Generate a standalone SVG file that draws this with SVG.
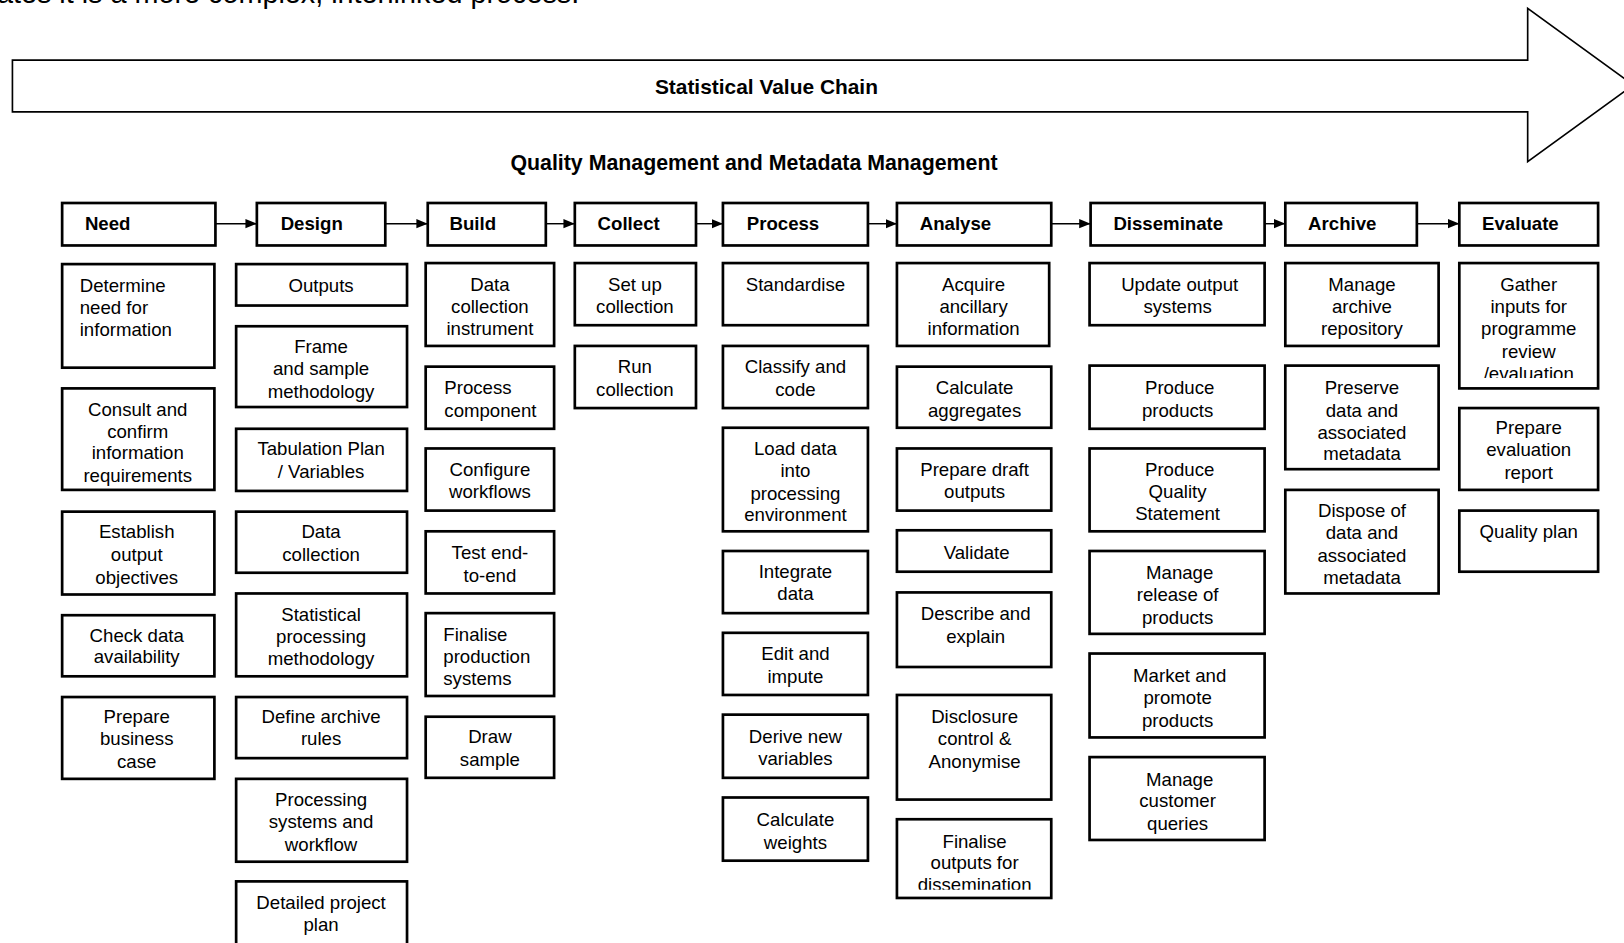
<svg xmlns="http://www.w3.org/2000/svg" width="1624" height="943" viewBox="0 0 1624 943">
<style>
.box{fill:#fff;stroke:#000;stroke-width:2.6}
.t{font-family:"Liberation Sans",Arial,sans-serif;font-size:18px;fill:#000;text-anchor:middle}
.l{text-anchor:start}
.h{font-family:"Liberation Sans",Arial,sans-serif;font-size:18px;font-weight:bold;fill:#000}
.title{font-family:"Liberation Sans",Arial,sans-serif;font-weight:bold;fill:#000;text-anchor:middle}
.conn{stroke:#000;stroke-width:1.4;fill:none}
</style>
<defs>
<marker id="ah" markerUnits="userSpaceOnUse" markerWidth="11" markerHeight="10" refX="11" refY="5" orient="auto">
<path d="M0,0.5 L11,5 L0,9.5 z" fill="#000"/>
</marker>
<clipPath id="clipGather"><rect x="1400" y="250" width="150" height="115"/></clipPath>
<clipPath id="clipFinal"><rect x="860" y="790" width="160" height="69"/></clipPath>
</defs>
<rect x="0" y="0" width="1624" height="943" fill="#fff"/>
<g transform="scale(1.035714)">
<text x="-3" y="3" font-family="Liberation Sans, Arial, sans-serif" font-size="27.8" fill="#000">ates it is a more complex, interlinked process.</text>

<g id="value-chain-arrow">
<polygon points="12,58 1475,58 1475,8 1577,82 1475,156 1475,108 12,108" fill="#fff" stroke="#000" stroke-width="1.6"/>
<text class="title" x="740" y="91" font-size="20.2">Statistical Value Chain</text>
</g>
<g id="qm-title">
<text class="title" x="728" y="164" font-size="20.6">Quality Management and Metadata Management</text>
</g>

<g id="connectors">
<line class="conn" x1="208" y1="216" x2="248" y2="216" marker-end="url(#ah)"/>
<line class="conn" x1="372" y1="216" x2="413" y2="216" marker-end="url(#ah)"/>
<line class="conn" x1="527" y1="216" x2="555" y2="216" marker-end="url(#ah)"/>
<line class="conn" x1="672" y1="216" x2="698" y2="216" marker-end="url(#ah)"/>
<line class="conn" x1="838" y1="216" x2="866" y2="216" marker-end="url(#ah)"/>
<line class="conn" x1="1015" y1="216" x2="1053" y2="216" marker-end="url(#ah)"/>
<line class="conn" x1="1221" y1="216" x2="1241" y2="216" marker-end="url(#ah)"/>
<line class="conn" x1="1368" y1="216" x2="1409" y2="216" marker-end="url(#ah)"/>
</g>

<!-- Headers -->
<g id="h-need"><rect class="box" x="60" y="196" width="148" height="41"/><text class="h" x="82" y="222">Need</text></g>
<g id="h-design"><rect class="box" x="248" y="196" width="124" height="41"/><text class="h" x="271" y="222">Design</text></g>
<g id="h-build"><rect class="box" x="413" y="196" width="114" height="41"/><text class="h" x="434" y="222">Build</text></g>
<g id="h-collect"><rect class="box" x="555" y="196" width="117" height="41"/><text class="h" x="577" y="222">Collect</text></g>
<g id="h-process"><rect class="box" x="698" y="196" width="140" height="41"/><text class="h" x="721" y="222">Process</text></g>
<g id="h-analyse"><rect class="box" x="866" y="196" width="149" height="41"/><text class="h" x="888" y="222">Analyse</text></g>
<g id="h-disseminate"><rect class="box" x="1053" y="196" width="168" height="41"/><text class="h" x="1075" y="222">Disseminate</text></g>
<g id="h-archive"><rect class="box" x="1241" y="196" width="127" height="41"/><text class="h" x="1263" y="222">Archive</text></g>
<g id="h-evaluate"><rect class="box" x="1409" y="196" width="134" height="41"/><text class="h" x="1431" y="222">Evaluate</text></g>

<!-- Need column -->
<g id="need-1"><rect class="box" x="60" y="255" width="147" height="100"/><text class="t l"><tspan x="77" y="281.5">Determine</tspan><tspan x="77" y="303.5">need for</tspan><tspan x="77" y="324.5">information</tspan></text></g>
<g id="need-2"><rect class="box" x="60" y="375" width="147" height="98"/><text class="t"><tspan x="133" y="401.5">Consult and</tspan><tspan x="133" y="422.5">confirm</tspan><tspan x="133" y="443.5">information</tspan><tspan x="133" y="465.5">requirements</tspan></text></g>
<g id="need-3"><rect class="box" x="60" y="494" width="147" height="80"/><text class="t"><tspan x="132" y="519.5">Establish</tspan><tspan x="132" y="541.5">output</tspan><tspan x="132" y="563.5">objectives</tspan></text></g>
<g id="need-4"><rect class="box" x="60" y="594" width="147" height="59"/><text class="t"><tspan x="132" y="619.5">Check data</tspan><tspan x="132" y="640.5">availability</tspan></text></g>
<g id="need-5"><rect class="box" x="60" y="673" width="147" height="79"/><text class="t"><tspan x="132" y="698.5">Prepare</tspan><tspan x="132" y="719.5">business</tspan><tspan x="132" y="741.5">case</tspan></text></g>

<!-- Design column -->
<g id="design-1"><rect class="box" x="228" y="255" width="165" height="40"/><text class="t"><tspan x="310" y="281.5">Outputs</tspan></text></g>
<g id="design-2"><rect class="box" x="228" y="315" width="165" height="78"/><text class="t"><tspan x="310" y="340.5">Frame</tspan><tspan x="310" y="362.5">and sample</tspan><tspan x="310" y="384.5">methodology</tspan></text></g>
<g id="design-3"><rect class="box" x="228" y="414" width="165" height="60"/><text class="t"><tspan x="310" y="439.5">Tabulation Plan</tspan><tspan x="310" y="461.5">/ Variables</tspan></text></g>
<g id="design-4"><rect class="box" x="228" y="494" width="165" height="59"/><text class="t"><tspan x="310" y="519.5">Data</tspan><tspan x="310" y="541.5">collection</tspan></text></g>
<g id="design-5"><rect class="box" x="228" y="573" width="165" height="80"/><text class="t"><tspan x="310" y="599.5">Statistical</tspan><tspan x="310" y="620.5">processing</tspan><tspan x="310" y="642.5">methodology</tspan></text></g>
<g id="design-6"><rect class="box" x="228" y="673" width="165" height="59"/><text class="t"><tspan x="310" y="698.5">Define archive</tspan><tspan x="310" y="719.5">rules</tspan></text></g>
<g id="design-7"><rect class="box" x="228" y="752" width="165" height="80"/><text class="t"><tspan x="310" y="778.5">Processing</tspan><tspan x="310" y="799.5">systems and</tspan><tspan x="310" y="821.5">workflow</tspan></text></g>
<g id="design-8"><rect class="box" x="228" y="851" width="165" height="66"/><text class="t"><tspan x="310" y="877.5">Detailed project</tspan><tspan x="310" y="898.5">plan</tspan></text></g>

<!-- Build column -->
<g id="build-1"><rect class="box" x="411" y="254" width="124" height="80"/><text class="t"><tspan x="473" y="280.5">Data</tspan><tspan x="473" y="302.5">collection</tspan><tspan x="473" y="323.5">instrument</tspan></text></g>
<g id="build-2"><rect class="box" x="411" y="354" width="124" height="60"/><text class="t l"><tspan x="429" y="380.5">Process</tspan><tspan x="429" y="402.5">component</tspan></text></g>
<g id="build-3"><rect class="box" x="411" y="433" width="124" height="60"/><text class="t"><tspan x="473" y="459.5">Configure</tspan><tspan x="473" y="480.5">workflows</tspan></text></g>
<g id="build-4"><rect class="box" x="411" y="513" width="124" height="60"/><text class="t"><tspan x="473" y="539.5">Test end-</tspan><tspan x="473" y="561.5">to-end</tspan></text></g>
<g id="build-5"><rect class="box" x="411" y="592" width="124" height="80"/><text class="t l"><tspan x="428" y="618.5">Finalise</tspan><tspan x="428" y="640.5">production</tspan><tspan x="428" y="661.5">systems</tspan></text></g>
<g id="build-6"><rect class="box" x="411" y="692" width="124" height="59"/><text class="t"><tspan x="473" y="717.5">Draw</tspan><tspan x="473" y="739.5">sample</tspan></text></g>

<!-- Collect column -->
<g id="collect-1"><rect class="box" x="555" y="254" width="117" height="60"/><text class="t"><tspan x="613" y="280.5">Set up</tspan><tspan x="613" y="302.5">collection</tspan></text></g>
<g id="collect-2"><rect class="box" x="555" y="334" width="117" height="60"/><text class="t"><tspan x="613" y="360.5">Run</tspan><tspan x="613" y="382.5">collection</tspan></text></g>

<!-- Process column -->
<g id="process-1"><rect class="box" x="698" y="254" width="140" height="60"/><text class="t"><tspan x="768" y="280.5">Standardise</tspan></text></g>
<g id="process-2"><rect class="box" x="698" y="334" width="140" height="60"/><text class="t"><tspan x="768" y="360.5">Classify and</tspan><tspan x="768" y="382.5">code</tspan></text></g>
<g id="process-3"><rect class="box" x="698" y="413" width="140" height="100"/><text class="t"><tspan x="768" y="439.5">Load data</tspan><tspan x="768" y="460.5">into</tspan><tspan x="768" y="482.5">processing</tspan><tspan x="768" y="503.5">environment</tspan></text></g>
<g id="process-4"><rect class="box" x="698" y="532" width="140" height="60"/><text class="t"><tspan x="768" y="558.5">Integrate</tspan><tspan x="768" y="579.5">data</tspan></text></g>
<g id="process-5"><rect class="box" x="698" y="611" width="140" height="60"/><text class="t"><tspan x="768" y="637.5">Edit and</tspan><tspan x="768" y="659.5">impute</tspan></text></g>
<g id="process-6"><rect class="box" x="698" y="690" width="140" height="61"/><text class="t"><tspan x="768" y="717.5">Derive new</tspan><tspan x="768" y="738.5">variables</tspan></text></g>
<g id="process-7"><rect class="box" x="698" y="770" width="140" height="61"/><text class="t"><tspan x="768" y="797.5">Calculate</tspan><tspan x="768" y="819.5">weights</tspan></text></g>

<!-- Analyse column -->
<g id="analyse-1"><rect class="box" x="866" y="254" width="147" height="80"/><text class="t"><tspan x="940" y="280.5">Acquire</tspan><tspan x="940" y="302.5">ancillary</tspan><tspan x="940" y="323.5">information</tspan></text></g>
<g id="analyse-2"><rect class="box" x="866" y="354" width="149" height="59"/><text class="t"><tspan x="941" y="380.5">Calculate</tspan><tspan x="941" y="402.5">aggregates</tspan></text></g>
<g id="analyse-3"><rect class="box" x="866" y="433" width="149" height="60"/><text class="t"><tspan x="941" y="459.5">Prepare draft</tspan><tspan x="941" y="480.5">outputs</tspan></text></g>
<g id="analyse-4"><rect class="box" x="866" y="512" width="149" height="40"/><text class="t"><tspan x="943" y="539.5">Validate</tspan></text></g>
<g id="analyse-5"><rect class="box" x="866" y="572" width="149" height="72"/><text class="t"><tspan x="942" y="598.5">Describe and</tspan><tspan x="942" y="620.5">explain</tspan></text></g>
<g id="analyse-6"><rect class="box" x="866" y="671" width="149" height="101"/><text class="t"><tspan x="941" y="698.5">Disclosure</tspan><tspan x="941" y="719.5">control &amp;</tspan><tspan x="941" y="741.5">Anonymise</tspan></text></g>
<g id="analyse-7"><rect class="box" x="866" y="791" width="149" height="76"/><text class="t" clip-path="url(#clipFinal)"><tspan x="941" y="818.5">Finalise</tspan><tspan x="941" y="839.5">outputs for</tspan><tspan x="941" y="860.5">dissemination</tspan></text></g>

<!-- Disseminate column -->
<g id="diss-1"><rect class="box" x="1052" y="254" width="169" height="60"/><text class="t"><tspan x="1139" y="280.5">Update output</tspan><tspan x="1137" y="302.5">systems</tspan></text></g>
<g id="diss-2"><rect class="box" x="1052" y="353" width="169" height="61"/><text class="t"><tspan x="1139" y="380.5">Produce</tspan><tspan x="1137" y="402.5">products</tspan></text></g>
<g id="diss-3"><rect class="box" x="1052" y="433" width="169" height="80"/><text class="t"><tspan x="1139" y="459.5">Produce</tspan><tspan x="1137" y="480.5">Quality</tspan><tspan x="1137" y="502.5">Statement</tspan></text></g>
<g id="diss-4"><rect class="box" x="1052" y="532" width="169" height="80"/><text class="t"><tspan x="1139" y="559.5">Manage</tspan><tspan x="1137" y="580.5">release of</tspan><tspan x="1137" y="602.5">products</tspan></text></g>
<g id="diss-5"><rect class="box" x="1052" y="631" width="169" height="81"/><text class="t"><tspan x="1139" y="658.5">Market and</tspan><tspan x="1137" y="679.5">promote</tspan><tspan x="1137" y="701.5">products</tspan></text></g>
<g id="diss-6"><rect class="box" x="1052" y="731" width="169" height="80"/><text class="t"><tspan x="1139" y="758.5">Manage</tspan><tspan x="1137" y="779.5">customer</tspan><tspan x="1137" y="801.5">queries</tspan></text></g>

<!-- Archive column -->
<g id="archive-1"><rect class="box" x="1241" y="254" width="148" height="80"/><text class="t"><tspan x="1315" y="280.5">Manage</tspan><tspan x="1315" y="302.5">archive</tspan><tspan x="1315" y="323.5">repository</tspan></text></g>
<g id="archive-2"><rect class="box" x="1241" y="353" width="148" height="100"/><text class="t"><tspan x="1315" y="380.5">Preserve</tspan><tspan x="1315" y="402.5">data and</tspan><tspan x="1315" y="423.5">associated</tspan><tspan x="1315" y="444.5">metadata</tspan></text></g>
<g id="archive-3"><rect class="box" x="1241" y="473" width="148" height="100"/><text class="t"><tspan x="1315" y="499.5">Dispose of</tspan><tspan x="1315" y="520.5">data and</tspan><tspan x="1315" y="542.5">associated</tspan><tspan x="1315" y="563.5">metadata</tspan></text></g>

<!-- Evaluate column -->
<g id="eval-1"><rect class="box" x="1409" y="254" width="134" height="121"/><text class="t" clip-path="url(#clipGather)"><tspan x="1476" y="280.5">Gather</tspan><tspan x="1476" y="302.5">inputs for</tspan><tspan x="1476" y="323.5">programme</tspan><tspan x="1476" y="345.5">review</tspan><tspan x="1476" y="366.5">/evaluation</tspan></text></g>
<g id="eval-2"><rect class="box" x="1409" y="394" width="134" height="79"/><text class="t"><tspan x="1476" y="419.5">Prepare</tspan><tspan x="1476" y="440.5">evaluation</tspan><tspan x="1476" y="462.5">report</tspan></text></g>
<g id="eval-3"><rect class="box" x="1409" y="493" width="134" height="59"/><text class="t"><tspan x="1476" y="519.5">Quality plan</tspan></text></g>
</g>
</svg>
